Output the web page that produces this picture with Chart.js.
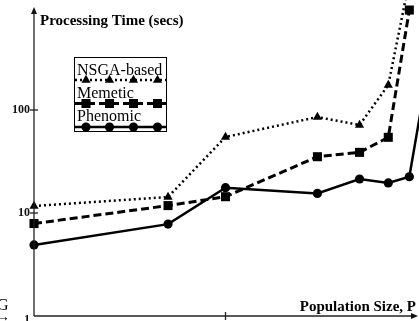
<!DOCTYPE html>
<html>
<head>
<meta charset="utf-8">
<script src="https://cdn.jsdelivr.net/npm/chart.js@4.4.0/dist/chart.umd.min.js"></script>
<style>
  html, body { margin: 0; padding: 0; background: #fff; }
  #wrap { width: 419px; height: 321px; position: relative; }
</style>
</head>
<body>
<div id="wrap"><canvas id="chart"></canvas></div>
<script>
// population sizes (x) and processing times (secs, log y)
const popSizes = [0, 70, 100, 148, 170, 185, 196];
const popSizesPhenomic = [0, 70, 100, 148, 170, 185, 196, 205];
const nsgaTimes = [11.7, 14.3, 54.7, 85.5, 71.5, 175, 1800];
const memeticTimes = [7.9, 11.8, 14.4, 35.2, 38.8, 54.3, 935];
const phenomicTimes = [4.9, 7.8, 17.6, 15.5, 21.4, 19.6, 22.5, 210];
const yTicks = [1, 10, 100];
const xTicks = [100];
const seriesNames = ["NSGA-based", "Memetic", "Phenomic"];

const SERIF = '"Liberation Serif", "Times New Roman", serif';

function toPoints(xs, ys) {
  return ys.map((y, i) => ({ x: xs[i], y: y }));
}

const styles = [
  { dash: [2, 3], width: 2.5, point: "triangle", radius: 5.3 },
  { dash: [8, 4], width: 3, point: "rect", radius: 6.4 },
  { dash: [], width: 2.5, point: "circle", radius: 4.6 },
];

// axes, ticks, titles and the boxed legend
const decorPlugin = {
  id: "decor",
  afterDatasetsDraw(chart) {
    const ctx = chart.ctx;
    const xs = chart.scales.x;
    const ys = chart.scales.y;
    const x0 = xs.getPixelForValue(0);
    const y0 = ys.getPixelForValue(1);
    const xEnd = 417;
    const yTop = 8;

    ctx.save();
    ctx.strokeStyle = "#222";
    ctx.fillStyle = "#111";
    ctx.lineWidth = 1.3;
    ctx.setLineDash([]);
    // y axis + arrow
    ctx.beginPath();
    ctx.moveTo(x0, y0);
    ctx.lineTo(x0, yTop + 2);
    ctx.stroke();
    ctx.beginPath();
    ctx.moveTo(x0, yTop - 1);
    ctx.lineTo(x0 - 3, yTop + 6);
    ctx.lineTo(x0 + 3, yTop + 6);
    ctx.closePath();
    ctx.fill();
    // x axis + arrow
    ctx.beginPath();
    ctx.moveTo(x0, y0);
    ctx.lineTo(xEnd - 2, y0);
    ctx.stroke();
    ctx.beginPath();
    ctx.moveTo(xEnd + 1, y0);
    ctx.lineTo(xEnd - 6, y0 - 3);
    ctx.lineTo(xEnd - 6, y0 + 3);
    ctx.closePath();
    ctx.fill();

    // y ticks
    ctx.font = "bold 12px " + SERIF;
    ctx.textAlign = "right";
    ctx.textBaseline = "middle";
    yTicks.forEach((v) => {
      const py = ys.getPixelForValue(v);
      if (v !== 1) {
        ctx.beginPath();
        ctx.moveTo(x0 - 4, py);
        ctx.lineTo(x0 + 4, py);
        ctx.stroke();
      }
      ctx.fillText(String(v), x0 - 4, v === 1 ? py + 4 : py);
    });
    // x ticks
    xTicks.forEach((v) => {
      const px = xs.getPixelForValue(v);
      ctx.beginPath();
      ctx.moveTo(px, y0 - 4);
      ctx.lineTo(px, y0 + 4);
      ctx.stroke();
    });

    // axis titles
    ctx.font = "bold 15px " + SERIF;
    ctx.textAlign = "left";
    ctx.textBaseline = "alphabetic";
    ctx.fillStyle = "#000";
    ctx.fillText("Processing Time (secs)", 40, 25);
    ctx.textAlign = "right";
    ctx.fillText("Population Size, P", 416, 311);

    // fragment of neighbouring figure label
    ctx.font = "16px " + SERIF;
    ctx.textAlign = "left";
    ctx.fillText("G", -3, 310);
    ctx.font = "14px " + SERIF;
    ctx.fillText("\u2192", -4, 321);

    // legend box
    const bx = 74, by = 57, bw = 92, bh = 74;
    ctx.fillStyle = "#fff";
    ctx.fillRect(bx, by, bw, bh);
    ctx.lineWidth = 1;
    ctx.strokeStyle = "#000";
    ctx.strokeRect(bx + 0.5, by + 0.5, bw, bh);
    const textY = [75, 98, 121];
    const lineY = [80, 103.5, 127];
    const markX = [86, 109.5, 133.5, 157.5];
    ctx.font = "16px " + SERIF;
    ctx.textAlign = "left";
    seriesNames.forEach((name, i) => {
      const s = styles[i];
      ctx.fillStyle = "#000";
      ctx.fillText(name, 77, textY[i]);
      ctx.beginPath();
      ctx.setLineDash(s.dash);
      ctx.lineWidth = s.width;
      ctx.moveTo(bx + 1, lineY[i]);
      ctx.lineTo(bx + bw, lineY[i]);
      ctx.stroke();
      ctx.setLineDash([]);
      ctx.lineWidth = 0.01;
      markX.forEach((mx) => {
        Chart.helpers.drawPoint(ctx, {
          pointStyle: s.point, radius: s.radius, borderWidth: 0, rotation: 0,
        }, mx, lineY[i]);
      });
    });
    ctx.restore();
  },
};

const ctx = document.getElementById("chart").getContext("2d");
const sets = [
  toPoints(popSizes, nsgaTimes),
  toPoints(popSizes, memeticTimes),
  toPoints(popSizesPhenomic, phenomicTimes),
];

new Chart(ctx, {
  type: "line",
  data: {
    datasets: seriesNames.map((name, i) => ({
      label: name,
      data: sets[i],
      borderColor: "#000",
      backgroundColor: "#000",
      pointBackgroundColor: "#000",
      pointBorderColor: "#000",
      borderWidth: styles[i].width,
      borderDash: styles[i].dash,
      pointStyle: styles[i].point,
      pointRadius: styles[i].radius,
      pointBorderWidth: 0,
      tension: 0,
      clip: false,
    })),
  },
  options: {
    responsive: true,
    maintainAspectRatio: false,
    animation: false,
    layout: { autoPadding: false, padding: { left: 34, right: 2, top: 0, bottom: 5 } },
    scales: {
      x: { type: "linear", min: 0, max: 200, display: false },
      y: { type: "logarithmic", min: 1, max: 1170, display: false },
    },
    plugins: {
      legend: { display: false },
      tooltip: { enabled: false },
    },
  },
  plugins: [decorPlugin],
});
</script>
</body>
</html>
